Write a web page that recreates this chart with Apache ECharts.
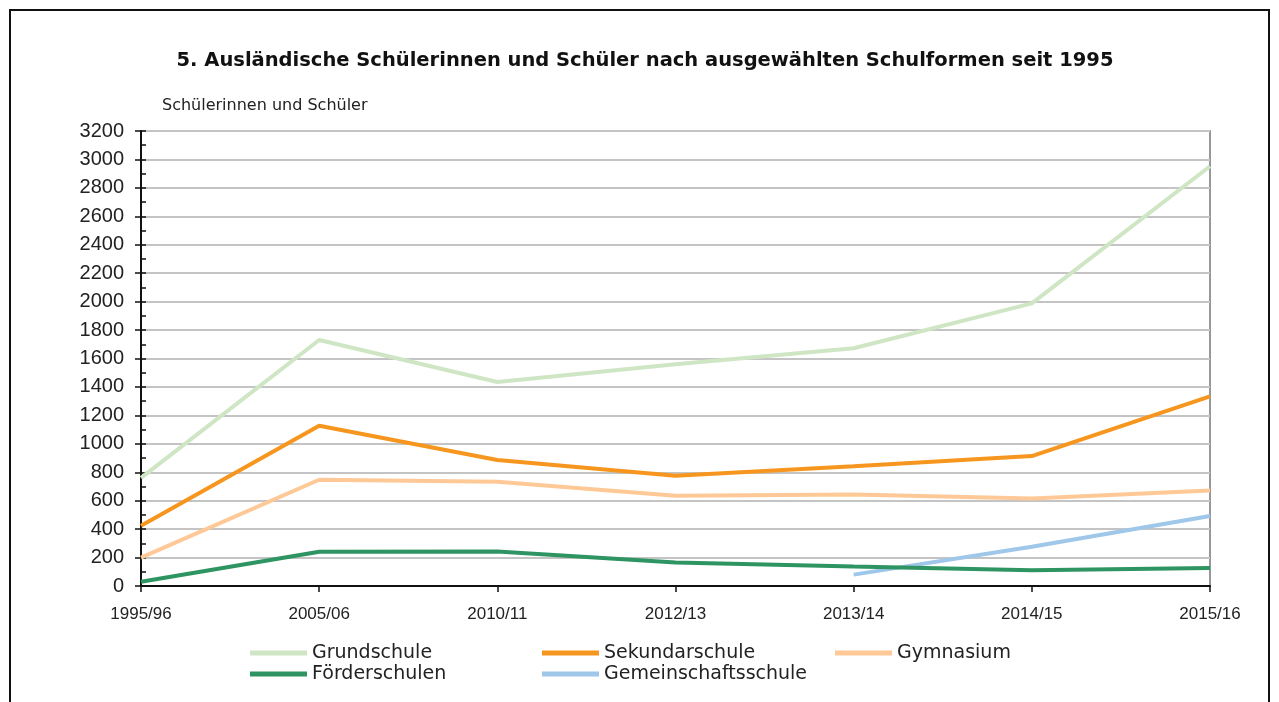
<!DOCTYPE html>
<html>
<head>
<meta charset="utf-8">
<script src="https://cdn.jsdelivr.net/npm/echarts@6/dist/echarts.min.js"></script>
<style>
html,body{margin:0;padding:0;background:#fff;}
#chart{width:1279px;height:702px;}
</style>
</head>
<body>
<div id="chart"></div>
<script>
const categories = ['1995/96','2005/06','2010/11','2012/13','2013/14','2014/15','2015/16'];
const grundschule = [760, 1730, 1435, 1560, 1672, 1988, 2952];
const sekundarschule = [424, 1127, 886, 775, 843, 914, 1334];
const gymnasium = [200, 747, 733, 635, 643, 615, 672];
const foerderschulen = [30, 241, 242, 166, 138, 111, 126];
const gemeinschaftsschule = [null, null, null, null, 80, 276, 492];
const seriesNames = ['Grundschule','Sekundarschule','Gymnasium','Förderschulen','Gemeinschaftsschule'];
const seriesColors = ['#cfe6c5','#f7961f','#fec996','#2e9462','#9fc7e9'];
const seriesData = [grundschule, sekundarschule, gymnasium, foerderschulen, gemeinschaftsschule];

const FONT = '"Liberation Sans", Arial, sans-serif';
const WIDE = '"DejaVu Sans", "Liberation Sans", sans-serif';
const chart = echarts.init(document.getElementById('chart'), null, {renderer:'canvas'});

const legendPos = [
  {left:250, top:643}, {left:542, top:643}, {left:835, top:643},
  {left:250, top:664}, {left:542, top:664}
];

const option = {
  backgroundColor:'#fff',
  animation:false,
  title:{
    text:'5. Ausländische Schülerinnen und Schüler nach ausgewählten Schulformen seit 1995',
    left:640, top:46, textAlign:'center',
    textStyle:{fontFamily:WIDE, fontSize:19.5, fontWeight:'bold', color:'#111'}
  },
  graphic:[{
    type:'rect', shape:{x:10, y:10, width:1259, height:720},
    style:{fill:'none', stroke:'#111', lineWidth:2}, silent:true
  }],
  legend: seriesNames.map((n,i)=>({
    data:[n], left:legendPos[i].left, top:legendPos[i].top,
    icon:'rect', itemWidth:57, itemHeight:5, itemGap:0, padding:0,
    textStyle:{fontFamily:WIDE, fontSize:19, color:'#222', lineHeight:20},
    selectedMode:false
  })),
  grid:{left:141, right:69, top:131, bottom:116, show:true, borderColor:'#777', borderWidth:1.5, containLabel:false},
  xAxis:{
    type:'category', data:categories, boundaryGap:false,
    axisLine:{lineStyle:{color:'#111', width:2}},
    axisTick:{show:true, length:6, lineStyle:{color:'#111', width:1.5}},
    axisLabel:{fontFamily:FONT, fontSize:17, color:'#222', margin:20},
    splitLine:{show:false}
  },
  yAxis:[{
    type:'value', min:0, max:3200, interval:200,
    name:'Schülerinnen und Schüler', nameLocation:'end', nameGap:17,
    nameTextStyle:{fontFamily:WIDE, fontSize:16, color:'#222', align:'left', padding:[0,0,0,21]},
    axisLine:{show:true, lineStyle:{color:'#111', width:2}},
    axisTick:{show:true, length:6, lineStyle:{color:'#111', width:1.5}},
    axisLabel:{fontFamily:FONT, fontSize:20, color:'#222', margin:17, formatter:(v)=>String(v)},
    splitLine:{show:true, lineStyle:{color:'#c4c4c4', width:2}}
  },{
    type:'value', min:0, max:3200, interval:100, position:'left',
    axisLine:{show:false},
    axisTick:{show:true, inside:true, length:5, lineStyle:{color:'#111', width:1.5}},
    axisLabel:{show:false}, splitLine:{show:false}
  }],
  series: seriesNames.map((n,i)=>({
    name:n, type:'line', data:seriesData[i], showSymbol:false, symbol:'none',
    connectNulls:false, z:2+ (i===3?1:0),
    lineStyle:{color:seriesColors[i], width:4},
    itemStyle:{color:seriesColors[i]}
  }))
};
chart.setOption(option);
</script>
</body>
</html>
